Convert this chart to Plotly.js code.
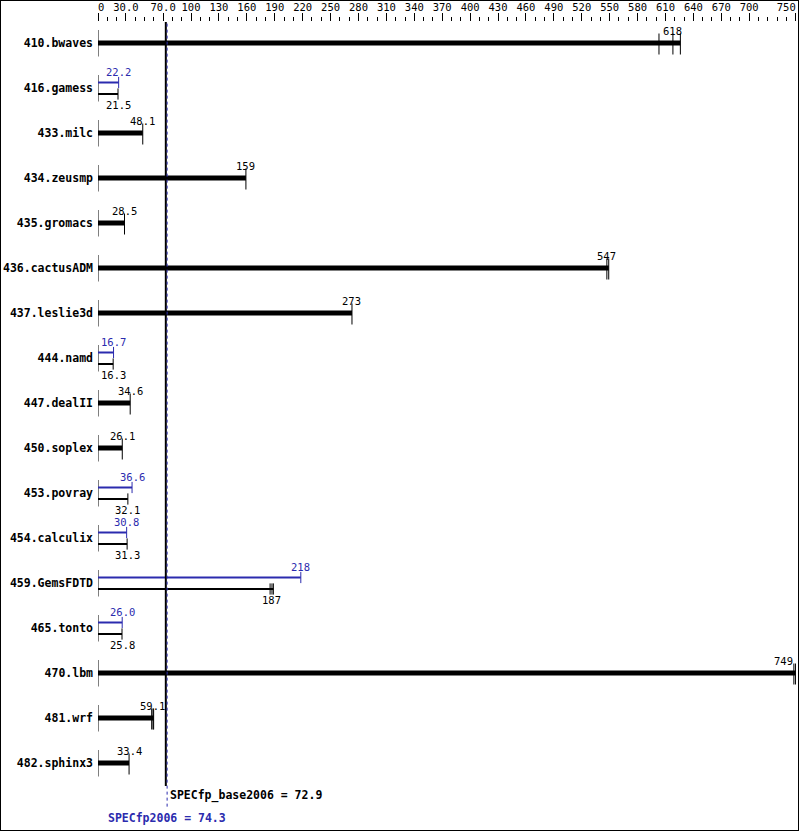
<!DOCTYPE html>
<html>
<head>
<meta charset="utf-8">
<script src="https://cdn.plot.ly/plotly-3.0.1.min.js"></script>
<style>
html,body{margin:0;padding:0;background:#fff;}
#chart{width:799px;height:831px;box-sizing:border-box;border:1px solid #000;background:#fff;}
</style>
</head>
<body>
<div id="chart"></div>
<script>
// ---- data ----
const categories = ["410.bwaves","416.gamess","433.milc","434.zeusmp","435.gromacs","436.cactusADM","437.leslie3d","444.namd","447.dealII","450.soplex","453.povray","454.calculix","459.GemsFDTD","465.tonto","470.lbm","481.wrf","482.sphinx3"];
const baseValues = [618, 21.5, 48.1, 159, 28.5, 547, 273, 16.3, 34.6, 26.1, 32.1, 31.3, 187, 25.8, 749, 59.1, 33.4];
const baseRuns = [[603,618,626],[21.5],[48.1],[159],[28.5],[547,549],[273],[16.3],[34.6],[26.1],[32.1],[31.3],[185,187,188.5],[25.8],[748,749.7],[57.7,59.1,59.8],[33.4]];
const peakValues = [null, 22.2, null, null, null, null, null, 16.7, null, null, 36.6, 30.8, 218, 26.0, null, null, null];
const specfpBase = 72.9;
const specfpPeak = 74.3;
const tickValues = [0,30,70,100,130,160,190,220,250,280,310,340,370,400,430,460,490,520,550,580,610,640,670,700,750];
const tickLabels = ["\u00a00","30.0","70.0","100","130","160","190","220","250","280","310","340","370","400","430","460","490","520","550","580","610","640","670","700","750\u00a0\u00a0\u00a0"];

// ---- styling ----
const BLACK = "#000000";
const BLUE = "#2b2bae";
const MONO = "DejaVu Sans Mono, monospace";
const ROW_PX = 45;
const OFF_PEAK = -5.5 / ROW_PX;
const OFF_BASE = 6 / ROW_PX;
const fmt = v => (v >= 100 ? v.toFixed(0) : v.toFixed(1));

const traces = [];
// whiskers at zero
{
  const x = [], y = [];
  categories.forEach((c, i) => { x.push(0, 0, null); y.push(i - 13/ROW_PX, i + 13.5/ROW_PX, null); });
  traces.push({x, y, mode: "lines", line: {color: BLACK, width: 1}, hoverinfo: "skip"});
}
// thick base bars (no peak)
{
  const x = [], y = [], cx = [], cy = [];
  categories.forEach((c, i) => {
    if (peakValues[i] !== null) return;
    const mx = Math.max(...baseRuns[i]);
    x.push(0, mx, null); y.push(i, i, null);
    baseRuns[i].forEach(r => { cx.push(r); cy.push(i + 1/ROW_PX); });
  });
  traces.push({x, y, mode: "lines", line: {color: BLACK, width: 5}, hoverinfo: "skip"});
  traces.push({x: cx, y: cy, mode: "markers", cliponaxis: false, marker: {symbol: "line-ns", size: 15, color: BLACK, line: {color: BLACK, width: 1}}, hoverinfo: "skip"});
}
// thin base + peak bars
{
  const bx = [], by = [], bcx = [], bcy = [];
  const px = [], py = [], pcx = [], pcy = [];
  categories.forEach((c, i) => {
    if (peakValues[i] === null) return;
    const mx = Math.max(...baseRuns[i]);
    bx.push(0, mx, null); by.push(i + OFF_BASE, i + OFF_BASE, null);
    baseRuns[i].forEach(r => { bcx.push(r); bcy.push(i + OFF_BASE); });
    px.push(0, peakValues[i], null); py.push(i + OFF_PEAK, i + OFF_PEAK, null);
    pcx.push(peakValues[i]); pcy.push(i + OFF_PEAK);
  });
  traces.push({x: bx, y: by, mode: "lines", line: {color: BLACK, width: 2}, hoverinfo: "skip"});
  traces.push({x: bcx, y: bcy, mode: "markers", marker: {symbol: "line-ns", size: 8, color: BLACK, line: {color: BLACK, width: 1}}, hoverinfo: "skip"});
  traces.push({x: px, y: py, mode: "lines", line: {color: BLUE, width: 2}, hoverinfo: "skip"});
  traces.push({x: pcx, y: pcy, mode: "markers", marker: {symbol: "line-ns", size: 8, color: BLUE, line: {color: BLUE, width: 1}}, hoverinfo: "skip"});
}

// value labels
const annotations = [];
const anchorFor = v => (v > 720 ? "right" : "center");
categories.forEach((c, i) => {
  if (peakValues[i] === null) {
    annotations.push({x: baseValues[i], y: i, xref: "x", yref: "y", text: fmt(baseValues[i]), showarrow: false,
      xanchor: anchorFor(baseValues[i]), yshift: 12, font: {family: MONO, size: 10.5, color: BLACK}});
  } else {
    annotations.push({x: peakValues[i], y: i, xref: "x", yref: "y", text: fmt(peakValues[i]), showarrow: false,
      xanchor: anchorFor(peakValues[i]), yshift: 16, font: {family: MONO, size: 10.5, color: BLUE}});
    annotations.push({x: baseValues[i], y: i, xref: "x", yref: "y", text: fmt(baseValues[i]), showarrow: false,
      xanchor: anchorFor(baseValues[i]), yshift: -17, font: {family: MONO, size: 10.5, color: BLACK}});
  }
});
annotations.push({x: specfpBase, y: 0, xref: "x", yref: "paper", xanchor: "left", yanchor: "middle", xshift: 2, yshift: -9.5,
  text: "<b>SPECfp_base2006 = " + specfpBase.toFixed(1) + "</b>", showarrow: false, font: {family: MONO, size: 11.5, color: BLACK}});
annotations.push({x: specfpPeak, y: 0, xref: "x", yref: "paper", xanchor: "center", yanchor: "middle", yshift: -31.5,
  text: "<b>SPECfp2006 = " + specfpPeak.toFixed(1) + "</b>", showarrow: false, font: {family: MONO, size: 11.5, color: BLUE}});

const shapes = [
  {type: "line", xref: "x", yref: "paper", x0: specfpBase, x1: specfpBase, y0: 0, y1: 1.0, line: {color: BLACK, width: 2}},
  {type: "line", xref: "x", yref: "paper", x0: specfpPeak, x1: specfpPeak, y0: -0.027, y1: 1.0, line: {color: BLUE, width: 1, dash: "dot"}}
];

const TOP = 21, BOTTOM = 44, H = 829;
const plotH = H - TOP - BOTTOM;
const yTop = -(TOP - 0) / ROW_PX; // row 0 center is 21px below top of plot
const yBottom = yTop + plotH / ROW_PX;

const layout = {
  width: 797, height: H,
  margin: {l: 97, r: 2, t: TOP, b: BOTTOM, pad: 0},
  paper_bgcolor: "#ffffff", plot_bgcolor: "#ffffff",
  showlegend: false,
  font: {family: MONO, color: BLACK},
  xaxis: {
    side: "top", range: [0, 750.3], tickmode: "array", tickvals: tickValues, ticktext: tickLabels,
    ticks: "outside", ticklen: 8, tickwidth: 1, tickcolor: BLACK, ticklabelstandoff: -2, ticklabeloverflow: "allow",
    minor: {tick0: 0, dtick: 10, ticks: "outside", ticklen: 4, tickwidth: 1, tickcolor: BLACK, showgrid: false},
    showgrid: false, zeroline: false, showline: false, fixedrange: true,
    tickfont: {family: MONO, size: 10.5, color: BLACK}, tickangle: 0
  },
  yaxis: {
    range: [yBottom, yTop], tickmode: "array",
    tickvals: categories.map((c, i) => i), ticktext: categories.map(c => "<b>" + c + "</b>"),
    ticks: "", showgrid: false, zeroline: false, showline: false, fixedrange: true, ticklabelstandoff: 4,
    tickfont: {family: MONO, size: 11.5, color: BLACK}
  },
  annotations, shapes
};

Plotly.newPlot("chart", traces, layout, {displayModeBar: false, staticPlot: true});
</script>
</body>
</html>
